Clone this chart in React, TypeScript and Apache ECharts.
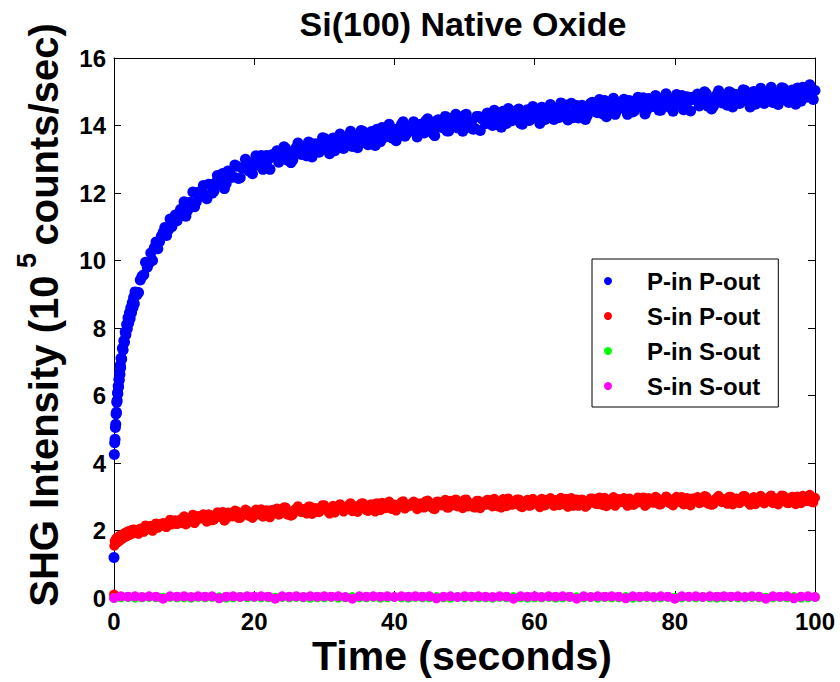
import React, { useEffect, useRef } from "react";
import * as echarts from "echarts";

// Sample times (s), first acquisition pass of the two P-out channels
const timeSec = [
  0, 0.05, 0.1, 0.15, 0.2, 0.25, 0.3, 0.35, 0.4, 0.45,
  0.5, 0.55, 0.6, 0.65, 0.7, 0.75, 0.8, 0.85, 0.9, 0.95,
  1.0, 1.1, 1.2, 1.3, 1.4, 1.5, 1.6, 1.7, 1.8, 1.9,
  2.0, 2.1, 2.2, 2.3, 2.4, 2.5, 2.6, 2.7, 2.8, 2.9,
  3, 3.25, 3.5, 3.75, 4, 4.25, 4.5, 4.75, 5, 5.25,
  5.5, 5.75, 6, 6.25, 6.5, 6.75, 7, 7.25, 7.5, 7.75,
  8, 8.25, 8.5, 8.75, 9, 9.25, 9.5, 9.75,
  10, 10.5, 11, 11.5, 12, 12.5,
  13, 13.5, 14, 14.5, 15, 15.5, 16, 16.5, 17, 17.5,
  18, 18.5, 19, 19.5, 20, 20.5, 21, 21.5, 22, 22.5,
  23, 23.5, 24, 24.5, 25, 25.5, 26, 26.5, 27, 27.5,
  28, 28.5, 29, 29.5, 30, 30.5, 31, 31.5, 32, 32.5,
  33, 33.5, 34, 34.5, 35, 35.5, 36, 36.5, 37, 37.5,
  38, 38.5, 39, 39.5, 40, 40.5, 41, 41.5, 42, 42.5,
  43, 43.5, 44, 44.5, 45, 45.5, 46, 46.5, 47, 47.5,
  48, 48.5, 49, 49.5, 50, 50.5, 51, 51.5, 52, 52.5,
  53, 53.5, 54, 54.5, 55, 55.5, 56, 56.5, 57, 57.5,
  58, 58.5, 59, 59.5, 60, 60.5, 61, 61.5, 62, 62.5,
  63, 63.5, 64, 64.5, 65, 65.5, 66, 66.5, 67, 67.5,
  68, 68.5, 69, 69.5, 70, 70.5, 71, 71.5, 72, 72.5,
  73, 73.5, 74, 74.5, 75, 75.5, 76, 76.5, 77, 77.5,
  78, 78.5, 79, 79.5, 80, 80.5, 81, 81.5, 82, 82.5,
  83, 83.5, 84, 84.5, 85, 85.5, 86, 86.5, 87, 87.5,
  88, 88.5, 89, 89.5, 90, 90.5, 91, 91.5, 92, 92.5,
  93, 93.5, 94, 94.5, 95, 95.5, 96, 96.5, 97, 97.5,
  98, 98.5, 99, 99.5, 100,
];

// P-in P-out (10^5 counts/sec) at timeSec
const pInPOut = [
  1.2, 4.25, 4.6, 4.7, 5.05, 5.15, 5.45, 5.5, 5.8, 5.85,
  6.08, 6.05, 6.28, 6.25, 6.48, 6.45, 6.68, 6.62, 6.9, 6.82,
  7.1, 7.08, 7.4, 7.35, 7.62, 7.58, 7.88, 7.8, 8.1, 7.98,
  8.3, 8.15, 8.45, 8.28, 8.6, 8.45, 8.75, 8.6, 8.9, 8.72,
  9.07, 8.98, 9.05, 9.42, 9.53, 9.58, 9.95, 9.8, 9.92, 10.22,
  10.0, 10.38, 10.55, 10.35, 10.56, 10.72, 10.83, 10.98, 10.74, 10.9,
  11.23, 11.0, 11.13, 11.35, 11.18, 11.4, 11.52, 11.38,
  11.74, 11.48, 11.72, 11.59, 12.02, 12.01,
  11.94, 12.26, 11.99, 12.3, 12.27, 12.58, 12.28, 12.61, 12.48, 12.79,
  12.45, 12.74, 12.92, 12.68, 12.94, 12.82, 13.11, 12.77, 12.99, 13.13,
  13.15, 12.91, 13.12, 13.32, 13.07, 12.98, 13.35, 13.21, 13.33, 13.1,
  13.48, 13.28, 13.23, 13.48, 13.62, 13.28, 13.44, 13.25, 13.62, 13.55,
  13.42, 13.7, 13.38, 13.65, 13.57, 13.83, 13.48, 13.77, 13.61, 13.89,
  13.52, 13.78, 13.93, 13.66, 13.89, 13.76, 14.03, 13.68, 13.88, 14.01,
  14.01, 13.76, 13.95, 14.14, 13.87, 13.76, 14.13, 13.97, 14.08, 13.84,
  14.21, 13.99, 13.93, 14.17, 14.3, 13.95, 14.1, 13.91, 14.27, 14.19,
  14.05, 14.32, 14.0, 14.26, 14.17, 14.42, 14.06, 14.35, 14.18, 14.45,
  14.07, 14.32, 14.47, 14.19, 14.41, 14.27, 14.54, 14.18, 14.38, 14.5,
  14.5, 14.24, 14.43, 14.61, 14.34, 14.23, 14.59, 14.43, 14.54, 14.29,
  14.66, 14.44, 14.38, 14.61, 14.74, 14.39, 14.54, 14.33, 14.69, 14.61,
  14.47, 14.74, 14.4, 14.66, 14.57, 14.82, 14.46, 14.73, 14.56, 14.83,
  14.45, 14.7, 14.83, 14.55, 14.77, 14.63, 14.89, 14.53, 14.73, 14.84,
  14.84, 14.58, 14.76, 14.94, 14.67, 14.56, 14.91, 14.75, 14.86, 14.6,
  14.97, 14.75, 14.68, 14.91, 15.04, 14.69, 14.83, 14.63, 14.98, 14.9,
  14.75, 15.02, 14.68, 14.94, 14.85, 15.1, 14.74, 15.01, 14.84, 15.11,
  14.72, 14.97, 15.11, 14.82, 15.04,
];

// S-in P-out (10^5 counts/sec) at timeSec
const sInPOut = [
  0.1, 1.55, 1.68, 1.6, 1.72, 1.62, 1.75, 1.66, 1.78, 1.64,
  1.76, 1.7, 1.8, 1.68, 1.82, 1.72, 1.84, 1.7, 1.83, 1.75,
  1.86, 1.74, 1.88, 1.78, 1.9, 1.8, 1.93, 1.82, 1.95, 1.84,
  1.97, 1.86, 1.99, 1.88, 2.0, 1.9, 2.02, 1.91, 2.03, 1.93,
  2.02, 1.93, 1.9, 2.06, 2.03, 1.96, 2.15, 2.1, 2.04, 2.14,
  1.99, 2.06, 2.21, 2.08, 2.14, 2.2, 2.22, 2.12, 2.1, 2.24,
  2.32, 2.18, 2.21, 2.3, 2.19, 2.27, 2.33, 2.22,
  2.42, 2.23, 2.33, 2.22, 2.43, 2.4,
  2.33, 2.48, 2.3, 2.45, 2.4, 2.55, 2.35, 2.51, 2.42, 2.57,
  2.37, 2.51, 2.58, 2.43, 2.55, 2.48, 2.63, 2.43, 2.54, 2.61,
  2.62, 2.47, 2.58, 2.68, 2.53, 2.47, 2.66, 2.58, 2.64, 2.5,
  2.71, 2.59, 2.55, 2.68, 2.75, 2.56, 2.64, 2.53, 2.73, 2.69,
  2.61, 2.76, 2.57, 2.72, 2.66, 2.81, 2.6, 2.76, 2.66, 2.81,
  2.6, 2.73, 2.81, 2.65, 2.77, 2.7, 2.84, 2.65, 2.75, 2.81,
  2.82, 2.67, 2.77, 2.87, 2.72, 2.65, 2.85, 2.76, 2.81, 2.68,
  2.88, 2.75, 2.71, 2.84, 2.91, 2.71, 2.8, 2.68, 2.88, 2.83,
  2.76, 2.9, 2.71, 2.85, 2.79, 2.93, 2.72, 2.88, 2.78, 2.92,
  2.71, 2.84, 2.91, 2.75, 2.87, 2.8, 2.94, 2.74, 2.84, 2.9,
  2.9, 2.75, 2.85, 2.94, 2.79, 2.73, 2.92, 2.83, 2.88, 2.74,
  2.95, 2.82, 2.78, 2.9, 2.97, 2.77, 2.85, 2.73, 2.93, 2.88,
  2.81, 2.95, 2.76, 2.9, 2.84, 2.98, 2.77, 2.92, 2.82, 2.96,
  2.77, 2.9, 2.97, 2.81, 2.93, 2.85, 2.99, 2.79, 2.89, 2.95,
  2.96, 2.81, 2.91, 3.0, 2.85, 2.78, 2.97, 2.88, 2.93, 2.79,
  3.0, 2.87, 2.83, 2.95, 3.02, 2.82, 2.9, 2.78, 2.98, 2.93,
  2.86, 3.0, 2.81, 2.95, 2.89, 3.03, 2.82, 2.97, 2.87, 3.01,
  2.81, 2.94, 3.01, 2.85, 2.97,
];

// Interleaved sample times (s), second pass of the two P-out channels
const timeSecB = [
  10.25, 10.75, 11.25, 11.75, 12.25, 12.75, 13.25, 13.75, 14.25, 14.75,
  15.25, 15.75, 16.25, 16.75, 17.25, 17.75, 18.25, 18.75, 19.25, 19.75,
  20.25, 20.75, 21.25, 21.75, 22.25, 22.75, 23.25, 23.75, 24.25, 24.75,
  25.25, 25.75, 26.25, 26.75, 27.25, 27.75, 28.25, 28.75, 29.25, 29.75,
  30.25, 30.75, 31.25, 31.75, 32.25, 32.75, 33.25, 33.75, 34.25, 34.75,
  35.25, 35.75, 36.25, 36.75, 37.25, 37.75, 38.25, 38.75, 39.25, 39.75,
  40.25, 40.75, 41.25, 41.75, 42.25, 42.75, 43.25, 43.75, 44.25, 44.75,
  45.25, 45.75, 46.25, 46.75, 47.25, 47.75, 48.25, 48.75, 49.25, 49.75,
  50.25, 50.75, 51.25, 51.75, 52.25, 52.75, 53.25, 53.75, 54.25, 54.75,
  55.25, 55.75, 56.25, 56.75, 57.25, 57.75, 58.25, 58.75, 59.25, 59.75,
  60.25, 60.75, 61.25, 61.75, 62.25, 62.75, 63.25, 63.75, 64.25, 64.75,
  65.25, 65.75, 66.25, 66.75, 67.25, 67.75, 68.25, 68.75, 69.25, 69.75,
  70.25, 70.75, 71.25, 71.75, 72.25, 72.75, 73.25, 73.75, 74.25, 74.75,
  75.25, 75.75, 76.25, 76.75, 77.25, 77.75, 78.25, 78.75, 79.25, 79.75,
  80.25, 80.75, 81.25, 81.75, 82.25, 82.75, 83.25, 83.75, 84.25, 84.75,
  85.25, 85.75, 86.25, 86.75, 87.25, 87.75, 88.25, 88.75, 89.25, 89.75,
  90.25, 90.75, 91.25, 91.75, 92.25, 92.75, 93.25, 93.75, 94.25, 94.75,
  95.25, 95.75, 96.25, 96.75, 97.25, 97.75, 98.25, 98.75, 99.25, 99.75,
];

// P-in P-out at timeSecB
const pInPOutB = [
  11.31, 11.72, 12.03, 11.74, 11.9, 12.22, 11.83, 12.25, 12.05, 12.52,
  12.35, 12.13, 12.65, 12.46, 12.83, 12.43, 12.75, 13.0, 12.65, 12.57,
  13.1, 12.86, 12.7, 13.11, 12.7, 13.08, 13.25, 12.99, 13.37, 12.97,
  12.9, 13.24, 13.48, 13.14, 13.24, 13.51, 13.07, 13.46, 13.21, 13.64,
  13.43, 13.16, 13.63, 13.41, 13.75, 13.32, 13.61, 13.83, 13.45, 13.34,
  13.85, 13.59, 13.43, 13.82, 13.41, 13.77, 13.94, 13.66, 14.04, 13.62,
  13.55, 13.88, 14.11, 13.76, 13.85, 14.11, 13.66, 14.04, 13.78, 14.2,
  13.98, 13.7, 14.17, 13.94, 14.27, 13.84, 14.12, 14.33, 13.94, 13.83,
  14.33, 14.06, 13.89, 14.27, 13.85, 14.2, 14.37, 14.08, 14.45, 14.02,
  13.95, 14.27, 14.5, 14.14, 14.23, 14.49, 14.04, 14.41, 14.15, 14.56,
  14.34, 14.06, 14.52, 14.29, 14.62, 14.18, 14.46, 14.67, 14.28, 14.16,
  14.66, 14.39, 14.22, 14.6, 14.18, 14.53, 14.69, 14.4, 14.77, 14.34,
  14.26, 14.58, 14.81, 14.45, 14.54, 14.78, 14.33, 14.7, 14.44, 14.84,
  14.62, 14.34, 14.8, 14.57, 14.89, 14.45, 14.73, 14.94, 14.54, 14.42,
  14.92, 14.65, 14.47, 14.85, 14.43, 14.77, 14.93, 14.64, 15.0, 14.57,
  14.49, 14.81, 15.03, 14.67, 14.76, 15.0, 14.55, 14.92, 14.65, 15.06,
  14.84, 14.55, 15.01, 14.77, 15.1, 14.65, 14.93, 15.13, 14.74, 14.62,
  15.12, 14.85, 14.68, 15.05, 14.63, 14.98, 15.13, 14.84, 15.21, 14.77,
];

// S-in P-out at timeSecB
const sInPOutB = [
  2.18, 2.35, 2.47, 2.3, 2.35, 2.48, 2.26, 2.45, 2.32, 2.54,
  2.43, 2.29, 2.53, 2.42, 2.59, 2.37, 2.51, 2.62, 2.43, 2.37,
  2.62, 2.49, 2.41, 2.6, 2.39, 2.56, 2.65, 2.5, 2.69, 2.47,
  2.44, 2.61, 2.72, 2.54, 2.59, 2.71, 2.49, 2.67, 2.54, 2.75,
  2.64, 2.5, 2.73, 2.62, 2.78, 2.56, 2.7, 2.81, 2.61, 2.55,
  2.8, 2.67, 2.58, 2.78, 2.56, 2.74, 2.82, 2.66, 2.86, 2.63,
  2.59, 2.76, 2.87, 2.69, 2.73, 2.86, 2.63, 2.81, 2.68, 2.89,
  2.77, 2.63, 2.86, 2.74, 2.91, 2.68, 2.82, 2.92, 2.73, 2.66,
  2.92, 2.78, 2.69, 2.88, 2.66, 2.83, 2.91, 2.75, 2.94, 2.71,
  2.68, 2.84, 2.95, 2.76, 2.8, 2.92, 2.69, 2.87, 2.73, 2.94,
  2.84, 2.69, 2.92, 2.8, 2.96, 2.73, 2.87, 2.97, 2.77, 2.7,
  2.96, 2.82, 2.73, 2.92, 2.7, 2.87, 2.95, 2.79, 2.98, 2.75,
  2.72, 2.88, 2.99, 2.8, 2.84, 2.96, 2.73, 2.91, 2.77, 2.98,
  2.88, 2.73, 2.96, 2.84, 3.0, 2.77, 2.91, 3.01, 2.81, 2.74,
  3.0, 2.86, 2.77, 2.96, 2.74, 2.91, 2.99, 2.83, 3.02, 2.79,
  2.76, 2.92, 3.03, 2.84, 2.88, 3.0, 2.77, 2.95, 2.81, 3.02,
  2.91, 2.76, 2.99, 2.87, 3.03, 2.8, 2.94, 3.04, 2.84, 2.77,
  3.04, 2.9, 2.81, 3.0, 2.78, 2.95, 3.03, 2.87, 3.06, 2.83,
];

// Sample times (s) for the two S-out channels
const timeCoarse = [
  0, 1, 2, 3, 4, 5, 6, 7, 8, 9,
  10, 11, 12, 13, 14, 15, 16, 17, 18, 19,
  20, 21, 22, 23, 24, 25, 26, 27, 28, 29,
  30, 31, 32, 33, 34, 35, 36, 37, 38, 39,
  40, 41, 42, 43, 44, 45, 46, 47, 48, 49,
  50, 51, 52, 53, 54, 55, 56, 57, 58, 59,
  60, 61, 62, 63, 64, 65, 66, 67, 68, 69,
  70, 71, 72, 73, 74, 75, 76, 77, 78, 79,
  80, 81, 82, 83, 84, 85, 86, 87, 88, 89,
  90, 91, 92, 93, 94, 95, 96, 97, 98, 99,
  100,
];

// P-in S-out
const pInSOut = [
  0.0, 0.02, 0.03, 0.01, 0.02, 0.03, 0.02, 0.01, 0.03, 0.02,
  0.02, 0.01, 0.03, 0.02, 0.03, 0.02, 0.01, 0.02, 0.03, 0.02,
  0.03, 0.02, 0.02, 0.01, 0.03, 0.02, 0.03, 0.02, 0.01, 0.02,
  0.02, 0.03, 0.01, 0.02, 0.03, 0.02, 0.02, 0.03, 0.01, 0.02,
  0.03, 0.02, 0.01, 0.03, 0.02, 0.02, 0.03, 0.02, 0.01, 0.03,
  0.02, 0.03, 0.02, 0.02, 0.01, 0.03, 0.02, 0.03, 0.02, 0.01,
  0.02, 0.02, 0.03, 0.01, 0.02, 0.03, 0.02, 0.02, 0.03, 0.01,
  0.03, 0.02, 0.02, 0.03, 0.01, 0.02, 0.03, 0.02, 0.02, 0.03,
  0.01, 0.02, 0.03, 0.02, 0.03, 0.02, 0.01, 0.02, 0.03, 0.02,
  0.02, 0.03, 0.02, 0.01, 0.02, 0.03, 0.02, 0.03, 0.01, 0.02,
  0.03,
];

// S-in S-out
const sInSOut = [
  0.0, 0.05, 0.04, 0.05, 0.03, 0.05, 0.04, -0.02, 0.05, 0.04,
  0.05, 0.03, 0.05, 0.04, 0.05, -0.01, 0.04, 0.05, 0.03, 0.05,
  0.04, 0.05, 0.04, -0.02, 0.05, 0.04, 0.05, 0.03, 0.05, 0.04,
  0.05, 0.04, 0.05, 0.03, -0.02, 0.05, 0.04, 0.05, 0.04, 0.05,
  0.03, 0.05, 0.04, 0.05, 0.04, 0.05, -0.01, 0.04, 0.05, 0.03,
  0.05, 0.04, 0.05, 0.04, 0.03, 0.05, 0.04, -0.02, 0.05, 0.04,
  0.05, 0.03, 0.05, 0.04, 0.05, 0.04, -0.02, 0.05, 0.03, 0.05,
  0.04, 0.05, 0.04, -0.01, 0.05, 0.04, 0.05, 0.03, 0.05, 0.04,
  -0.02, 0.05, 0.04, 0.05, 0.03, 0.05, 0.04, 0.05, 0.04, 0.05,
  0.03, 0.05, 0.04, -0.02, 0.05, 0.04, 0.05, -0.01, 0.04, 0.05,
  0.03,
];

const seriesNames = ["P-in P-out", "S-in P-out", "P-in S-out", "S-in S-out"];
const seriesColors = ["#0000ff", "#ff0000", "#00ff00", "#ff00ff"];
const markerSizes = [11, 10, 10, 10];

const FONT = '"Liberation Sans", Arial, Helvetica, sans-serif';

export default function App() {
  const ref = useRef<HTMLDivElement>(null);

  useEffect(() => {
    document.body.style.margin = "0";
    if (!ref.current) return;
    const chart = echarts.init(ref.current, undefined, { renderer: "svg" });

    const pairs = (xs: number[], ys: number[]) => xs.map((x, i) => [x, ys[i]]);
    const seriesData = [
      pairs(timeSec, pInPOut).concat(pairs(timeSecB, pInPOutB)),
      pairs(timeSec, sInPOut).concat(pairs(timeSecB, sInPOutB)),
      pairs(timeCoarse, pInSOut),
      pairs(timeCoarse, sInSOut),
    ];

    const tickLabel = { fontSize: 24, fontWeight: "bold" as const, fontFamily: FONT, color: "#000" };
    const axisLine = { show: true, onZero: false, lineStyle: { color: "#000", width: 1 } };
    const axisTick = { show: true, inside: true, length: 7, lineStyle: { color: "#000", width: 1 } };

    chart.setOption({
      animation: false,
      backgroundColor: "#fff",
      grid: { left: 114, right: 25, top: 58, bottom: 84, containLabel: false },
      xAxis: [
        {
          type: "value", min: 0, max: 100, interval: 20, position: "bottom",
          axisLine, axisTick, splitLine: { show: false },
          axisLabel: { ...tickLabel, margin: 11, showMinLabel: true, showMaxLabel: true },
        },
        {
          type: "value", min: 0, max: 100, interval: 20, position: "top",
          axisLine, axisTick, splitLine: { show: false }, axisLabel: { show: false },
        },
      ],
      yAxis: [
        {
          type: "value", min: 0, max: 16, interval: 2, position: "left",
          axisLine, axisTick, splitLine: { show: false },
          axisLabel: { ...tickLabel, margin: 8, showMinLabel: true, showMaxLabel: true },
        },
        {
          type: "value", min: 0, max: 16, interval: 2, position: "right",
          axisLine, axisTick, splitLine: { show: false }, axisLabel: { show: false },
        },
      ],
      legend: {
        left: 592,
        top: 259,
        orient: "vertical",
        icon: "circle",
        itemWidth: 68,
        itemHeight: 8,
        itemGap: 11,
        padding: [10, 18, 9, 12],
        borderColor: "#000",
        borderWidth: 1,
        borderRadius: 0,
        backgroundColor: "#fff",
        selectedMode: false,
        textStyle: { fontSize: 24, fontWeight: "bold", fontFamily: FONT, color: "#000", lineHeight: 24 },
        data: seriesNames,
      },
      series: seriesNames.map((name, i) => ({
        name,
        type: "scatter",
        xAxisIndex: 0,
        yAxisIndex: 0,
        symbol: "circle",
        symbolSize: markerSizes[i],
        clip: false,
        itemStyle: { color: seriesColors[i], opacity: 1 },
        emphasis: { disabled: true },
        data: seriesData[i],
      })),
      graphic: [
        {
          type: "text",
          x: 463,
          y: 24,
          style: {
            text: "Si(100) Native Oxide",
            fontSize: 34, fontWeight: "bold", fontFamily: FONT,
            fill: "#000", align: "center", verticalAlign: "middle",
          },
        },
        {
          type: "text",
          x: 462,
          y: 656,
          style: {
            text: "Time (seconds)",
            fontSize: 41, fontWeight: "bold", fontFamily: FONT,
            fill: "#000", align: "center", verticalAlign: "middle",
          },
        },
        {
          type: "text",
          x: 44,
          y: 315,
          rotation: Math.PI / 2,
          style: {
            text: "{a|SHG Intensity (10}{s| 5 }{a|counts/sec)}",
            fill: "#000", align: "center", verticalAlign: "middle",
            rich: {
              a: { fontSize: 40, fontWeight: "bold", fontFamily: FONT, fill: "#000", verticalAlign: "middle" },
              s: { fontSize: 27, fontWeight: "bold", fontFamily: FONT, fill: "#000", verticalAlign: "middle", padding: [0, 0, 34, 0] },
            },
          },
        },
      ],
    });

    return () => chart.dispose();
  }, []);

  return <div ref={ref} style={{ width: 840, height: 682 }} />;
}
